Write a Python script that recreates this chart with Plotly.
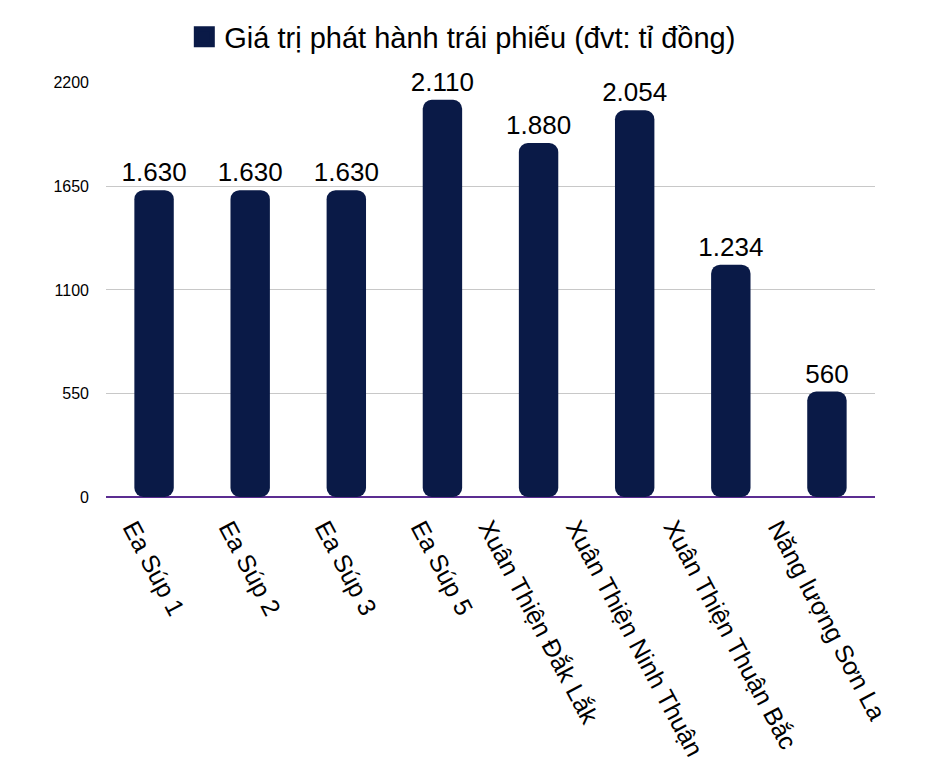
import plotly.graph_objects as go

# Data
categories = ["Ea Súp 1", "Ea Súp 2", "Ea Súp 3", "Ea Súp 5",
              "Xuân Thiện Đắk Lắk", "Xuân Thiện Ninh Thuận",
              "Xuân Thiện Thuận Bắc", "Năng lượng Sơn La"]
values = [1630, 1630, 1630, 2110, 1880, 2054, 1234, 560]
y_ticks = [0, 550, 1100, 1650, 2200]
series_name = "Giá trị phát hành trái phiếu (đvt: tỉ đồng)"

bar_color = "#0a1a47"
font_family = "Liberation Sans, Arial, sans-serif"

# Labels use a dot as thousands separator
labels = [f"{v:,}".replace(",", ".") for v in values]

fig = go.Figure()

# Explicit base so both ends of each bar get rounded
fig.add_trace(go.Bar(
    x=categories,
    y=values,
    base=0,
    marker=dict(color=bar_color, cornerradius=9, line=dict(width=0)),
    text=labels,
    texttemplate="%{text}",
    textposition="outside",
    constraintext="none",
    cliponaxis=False,
    textfont=dict(size=26, color="#000000", family=font_family),
    hovertemplate="%{x}: %{y}<extra></extra>",
    showlegend=False,
))

# Legend entry only
fig.add_trace(go.Scatter(
    x=[None], y=[None],
    mode="markers",
    marker=dict(symbol="square", size=16, color=bar_color,
                line=dict(color=bar_color, width=5)),
    name=series_name,
))

# Category labels: rotated and centred under each bar
for cat in categories:
    fig.add_annotation(
        x=cat, y=0, xref="x", yref="y",
        text=cat,
        textangle=62,
        showarrow=False,
        xanchor="center", yanchor="top",
        yshift=-16,
        font=dict(size=25, color="#000000", family=font_family),
    )

fig.update_layout(
    width=932,
    height=762,
    bargap=0.59,
    plot_bgcolor="white",
    paper_bgcolor="white",
    font=dict(family=font_family, color="#000000"),
    margin=dict(l=98, r=65, t=73, b=273),
    showlegend=True,
    legend=dict(
        orientation="h",
        xref="container", yref="container",
        x=0.488, xanchor="center",
        y=0.962, yanchor="middle",
        font=dict(size=29, color="#000000"),
        itemsizing="trace",
    ),
)

fig.update_xaxes(
    range=[-0.5, len(categories) - 0.5],
    showticklabels=False,
    showgrid=False,
    showline=False,
    ticks="",
)

fig.update_yaxes(
    range=[0, 2200],
    tickvals=y_ticks,
    tickfont=dict(size=16, color="#000000"),
    showgrid=True,
    gridcolor="#c8c8c8",
    gridwidth=1,
    zeroline=True,
    zerolinecolor="#5b2d91",
    zerolinewidth=2,
    ticklabelstandoff=16,
    showline=False,
)

fig.write_html("out.html")
